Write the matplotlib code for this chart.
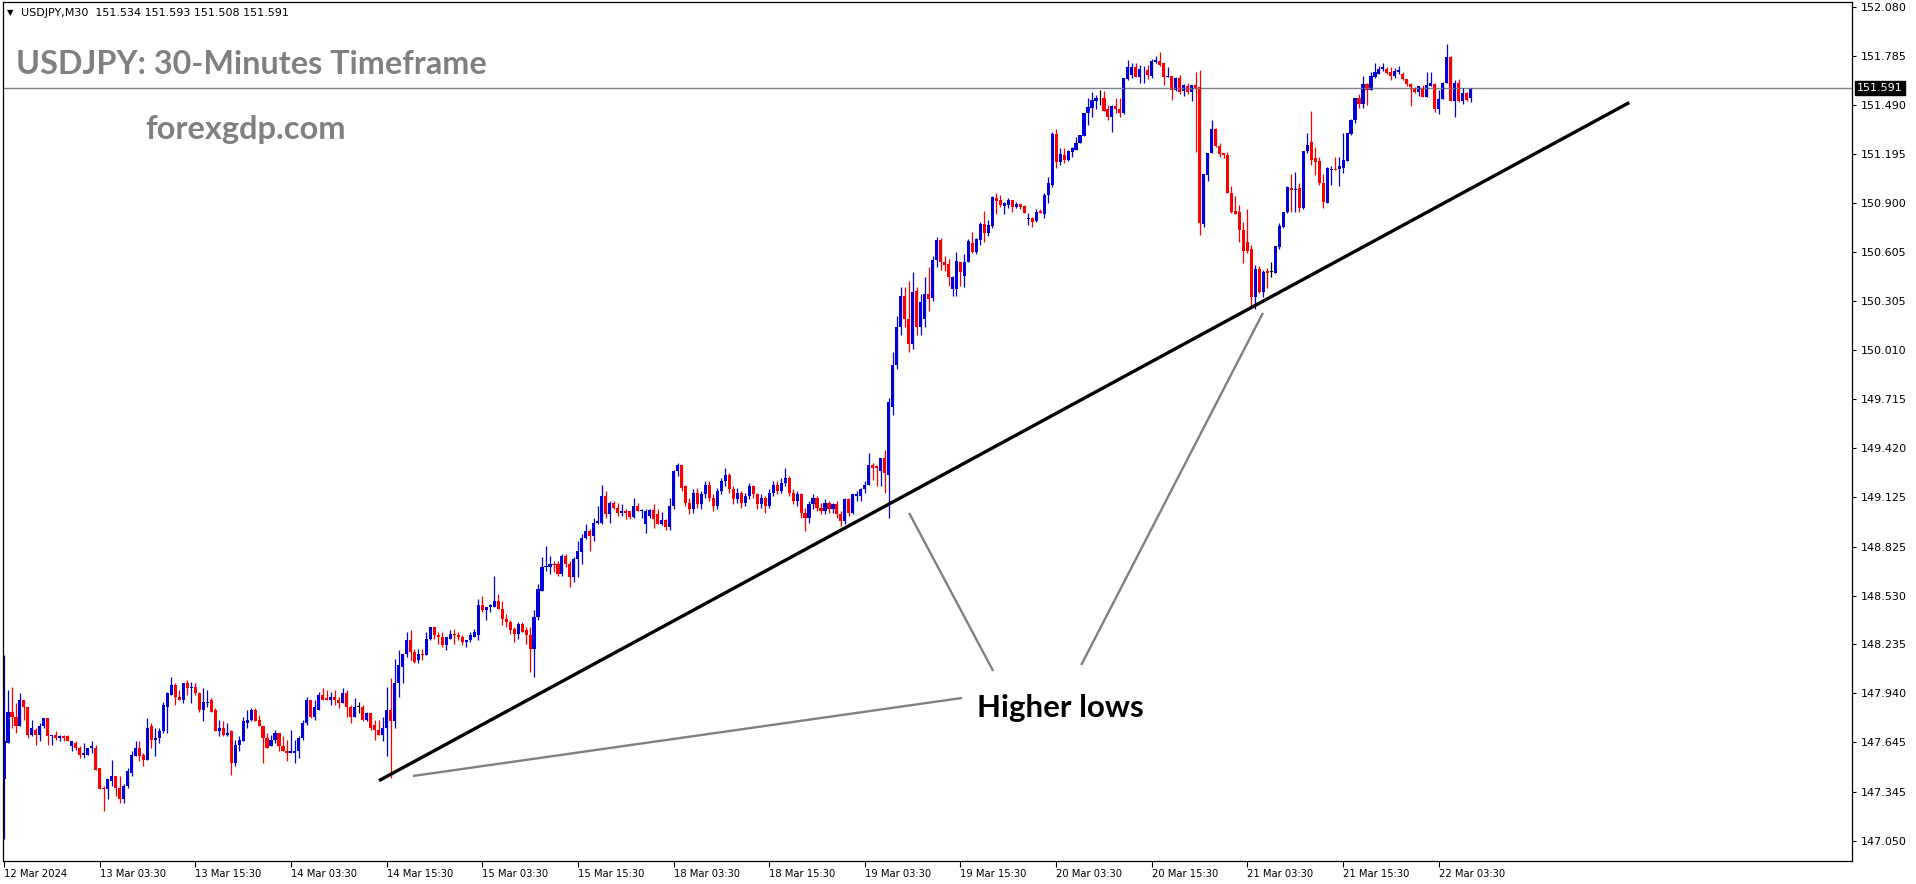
import matplotlib
matplotlib.use("Agg")
import matplotlib.pyplot as plt
import matplotlib.transforms as mtransforms
import numpy as np

plt.rcParams["font.family"] = ["DejaVu Sans"]

# ---- USDJPY M30 candles, 12 Mar 03:30 .. 22 Mar 08:00 ----
opens = [
    147.42, 147.64, 147.83, 147.80, 147.74, 147.90, 147.86, 147.69, 147.72, 147.69,  # 0
    147.74, 147.79, 147.68, 147.69, 147.67, 147.68, 147.68, 147.62, 147.64, 147.61,  # 10
    147.57, 147.57, 147.61, 147.61, 147.49, 147.37, 147.36, 147.41, 147.44, 147.37,  # 20
    147.30, 147.38, 147.46, 147.56, 147.61, 147.57, 147.54, 147.74, 147.66, 147.67,  # 30
    147.71, 147.86, 147.93, 147.99, 147.92, 147.90, 148.00, 147.97, 147.98, 147.94,  # 40
    147.84, 147.88, 147.90, 147.84, 147.71, 147.73, 147.69, 147.71, 147.52, 147.63,  # 50
    147.65, 147.76, 147.78, 147.84, 147.78, 147.74, 147.67, 147.62, 147.66, 147.70,  # 60
    147.62, 147.59, 147.58, 147.58, 147.59, 147.67, 147.76, 147.90, 147.80, 147.84,  # 70
    147.93, 147.91, 147.90, 147.92, 147.90, 147.88, 147.94, 147.86, 147.80, 147.86,  # 80
    147.86, 147.78, 147.82, 147.75, 147.72, 147.69, 147.73, 147.84, 147.77, 148.00,  # 90
    148.10, 148.18, 148.26, 148.19, 148.14, 148.18, 148.17, 148.27, 148.34, 148.29,  # 100
    148.28, 148.23, 148.27, 148.30, 148.29, 148.28, 148.25, 148.26, 148.28, 148.29,  # 110
    148.47, 148.44, 148.46, 148.46, 148.50, 148.45, 148.39, 148.37, 148.33, 148.30,  # 120
    148.36, 148.32, 148.29, 148.21, 148.40, 148.56, 148.70, 148.70, 148.72, 148.72,  # 130
    148.66, 148.77, 148.72, 148.64, 148.75, 148.79, 148.88, 148.92, 148.89, 148.97,  # 140
    148.97, 149.13, 149.02, 149.09, 149.06, 149.03, 149.04, 149.04, 149.005, 149.07,  # 150
    149.04, 148.96, 149.01, 149.045, 149.02, 148.96, 148.985, 148.945, 149.07, 149.28,  # 160
    149.32, 149.19, 149.09, 149.05, 149.15, 149.08, 149.14, 149.20, 149.12, 149.07,  # 170
    149.16, 149.22, 149.26, 149.17, 149.11, 149.15, 149.09, 149.13, 149.19, 149.14,  # 180
    149.08, 149.12, 149.07, 149.15, 149.20, 149.16, 149.21, 149.24, 149.15, 149.10,  # 190
    149.14, 149.03, 149.00, 149.08, 149.12, 149.06, 149.04, 149.09, 149.05, 149.08,  # 200
    149.02, 148.98, 149.11, 149.03, 149.13, 149.13, 149.17, 149.20, 149.32, 149.31,  # 210
    149.28, 149.36, 149.26, 149.67, 149.92, 150.15, 150.34, 150.20, 150.05, 150.37,  # 220
    150.15, 150.20, 150.35, 150.325, 150.555, 150.675, 150.545, 150.53, 150.38, 150.38,  # 230
    150.54, 150.46, 150.54, 150.655, 150.605, 150.676, 150.772, 150.72, 150.76, 150.93,  # 240
    150.917, 150.88, 150.887, 150.917, 150.873, 150.893, 150.88, 150.80, 150.81, 150.79,  # 250
    150.853, 150.83, 150.947, 151.008, 151.315, 151.148, 151.19, 151.16, 151.204, 151.22,  # 260
    151.26, 151.303, 151.44, 151.47, 151.515, 151.53, 151.53, 151.464, 151.416, 151.484,  # 270
    151.464, 151.444, 151.645, 151.671, 151.722, 151.657, 151.70, 151.702, 151.665, 151.752,  # 280
    151.758, 151.742, 151.657, 151.665, 151.581, 151.651, 151.577, 151.605, 151.571, 151.611,  # 290
    151.597, 150.772, 151.068, 151.203, 151.348, 151.243, 151.198, 151.188, 150.957, 150.853,  # 300
    150.847, 150.736, 150.666, 150.619, 150.334, 150.499, 150.364, 150.49, 150.485, 150.479,  # 310
    150.636, 150.756, 150.847, 150.988, 150.978, 150.988, 150.867, 151.215, 151.269, 151.168,  # 320
    151.154, 151.018, 150.901, 151.098, 151.102, 151.102, 151.108, 151.154, 151.315, 151.40,  # 330
    151.531, 151.496, 151.617, 151.581, 151.657, 151.68, 151.706, 151.706, 151.692, 151.665,  # 340
    151.688, 151.68, 151.645, 151.617, 151.591, 151.571, 151.591, 151.54, 151.605, 151.617,  # 350
    151.464, 151.525, 151.625, 151.782, 151.516, 151.621, 151.516, 151.565, 151.534,  # 360
]
highs = [
    148.17, 147.96, 147.98, 147.88, 147.94, 147.90, 147.86, 147.78, 147.73, 147.76,
    147.79, 147.79, 147.69, 147.71, 147.69, 147.69, 147.69, 147.65, 147.65, 147.62,
    147.64, 147.61, 147.65, 147.63, 147.49, 147.38, 147.42, 147.54, 147.44, 147.44,
    147.39, 147.49, 147.59, 147.65, 147.65, 147.58, 147.79, 147.76, 147.73, 147.73,
    147.89, 147.95, 148.04, 148.00, 147.96, 148.00, 148.02, 148.01, 148.00, 147.95,
    147.97, 147.96, 147.91, 147.85, 147.78, 147.77, 147.76, 147.72, 147.66, 147.68,
    147.80, 147.84, 147.85, 147.85, 147.81, 147.74, 147.70, 147.69, 147.72, 147.70,
    147.68, 147.66, 147.72, 147.66, 147.68, 147.78, 147.92, 147.90, 147.90, 147.95,
    147.97, 147.96, 147.95, 147.96, 147.92, 147.97, 147.96, 147.87, 147.91, 147.89,
    147.87, 147.83, 147.82, 147.78, 147.78, 147.80, 147.98, 148.03, 148.15, 148.20,
    148.18, 148.31, 148.32, 148.21, 148.21, 148.21, 148.31, 148.34, 148.34, 148.31,
    148.31, 148.28, 148.32, 148.33, 148.31, 148.29, 148.26, 148.31, 148.33, 148.51,
    148.53, 148.46, 148.48, 148.65, 148.54, 148.50, 148.42, 148.38, 148.34, 148.37,
    148.37, 148.34, 148.34, 148.44, 148.60, 148.76, 148.83, 148.77, 148.74, 148.74,
    148.78, 148.78, 148.74, 148.76, 148.86, 148.90, 148.96, 148.93, 149.00, 149.07,
    149.20, 149.16, 149.10, 149.10, 149.09, 149.08, 149.05, 149.04, 149.12, 149.09,
    149.05, 149.05, 149.05, 149.08, 149.05, 149.035, 148.99, 149.12, 149.29, 149.33,
    149.32, 149.20, 149.12, 149.17, 149.18, 149.16, 149.22, 149.22, 149.14, 149.18,
    149.24, 149.30, 149.27, 149.19, 149.18, 149.16, 149.15, 149.21, 149.20, 149.15,
    149.14, 149.13, 149.17, 149.22, 149.22, 149.24, 149.30, 149.25, 149.17, 149.16,
    149.15, 149.06, 149.10, 149.14, 149.13, 149.09, 149.11, 149.10, 149.09, 149.10,
    149.04, 149.12, 149.12, 149.145, 149.16, 149.18, 149.22, 149.39, 149.33, 149.32,
    149.36, 149.41, 149.72, 150.00, 150.22, 150.39, 150.39, 150.43, 150.48, 150.39,
    150.35, 150.45, 150.51, 150.58, 150.695, 150.685, 150.58, 150.56, 150.46, 150.605,
    150.545, 150.59, 150.68, 150.726, 150.686, 150.786, 150.85, 150.796, 150.94, 150.957,
    150.947, 150.905, 150.927, 150.917, 150.907, 150.893, 150.885, 150.836, 150.816, 150.86,
    150.863, 150.957, 151.058, 151.33, 151.343, 151.233, 151.23, 151.219, 151.235, 151.295,
    151.31, 151.444, 151.53, 151.571, 151.55, 151.58, 151.575, 151.49, 151.49, 151.535,
    151.53, 151.655, 151.762, 151.746, 151.742, 151.732, 151.726, 151.732, 151.766, 151.786,
    151.812, 151.746, 151.718, 151.665, 151.657, 151.671, 151.617, 151.625, 151.611, 151.692,
    151.702, 151.074, 151.203, 151.40, 151.349, 151.26, 151.202, 151.208, 151.002, 150.94,
    150.887, 150.786, 150.861, 150.645, 150.525, 150.519, 150.495, 150.505, 150.545, 150.64,
    150.78, 150.847, 151.002, 151.074, 151.088, 151.018, 151.215, 151.323, 151.456, 151.239,
    151.179, 151.074, 151.114, 151.122, 151.175, 151.178, 151.319, 151.323, 151.404, 151.531,
    151.557, 151.665, 151.621, 151.692, 151.746, 151.726, 151.742, 151.718, 151.718, 151.712,
    151.726, 151.69, 151.645, 151.625, 151.601, 151.605, 151.611, 151.692, 151.692, 151.625,
    151.58, 151.631, 151.859, 151.786, 151.641, 151.645, 151.591, 151.571, 151.593,
]
lows = [
    147.06, 147.64, 147.73, 147.70, 147.74, 147.78, 147.67, 147.68, 147.63, 147.65,
    147.73, 147.63, 147.63, 147.66, 147.65, 147.65, 147.65, 147.59, 147.60, 147.55,
    147.55, 147.57, 147.58, 147.48, 147.36, 147.23, 147.30, 147.38, 147.32, 147.28,
    147.28, 147.37, 147.44, 147.56, 147.53, 147.50, 147.54, 147.61, 147.56, 147.64,
    147.70, 147.70, 147.93, 147.87, 147.90, 147.88, 147.93, 147.88, 147.93, 147.83,
    147.77, 147.86, 147.83, 147.71, 147.68, 147.68, 147.68, 147.45, 147.50, 147.59,
    147.65, 147.73, 147.77, 147.77, 147.74, 147.52, 147.61, 147.62, 147.64, 147.59,
    147.59, 147.53, 147.58, 147.52, 147.55, 147.66, 147.75, 147.79, 147.78, 147.84,
    147.90, 147.90, 147.87, 147.87, 147.85, 147.88, 147.80, 147.76, 147.80, 147.82,
    147.77, 147.77, 147.72, 147.66, 147.69, 147.65, 147.56, 147.43, 147.73, 147.92,
    148.00, 148.16, 148.14, 148.12, 148.12, 148.14, 148.17, 148.26, 148.27, 148.24,
    148.22, 148.20, 148.27, 148.24, 148.26, 148.23, 148.22, 148.25, 148.28, 148.26,
    148.43, 148.38, 148.43, 148.46, 148.45, 148.35, 148.34, 148.30, 148.25, 148.27,
    148.31, 148.24, 148.07, 148.04, 148.38, 148.56, 148.68, 148.66, 148.67, 148.65,
    148.65, 148.70, 148.58, 148.61, 148.64, 148.72, 148.87, 148.80, 148.86, 148.96,
    148.96, 149.00, 148.97, 149.05, 149.01, 149.01, 148.99, 148.99, 149.00, 149.04,
    149.00, 148.91, 149.00, 148.94, 148.96, 148.955, 148.925, 148.925, 149.05, 149.25,
    149.16, 149.07, 149.02, 149.03, 149.06, 149.05, 149.12, 149.10, 149.04, 149.05,
    149.14, 149.19, 149.15, 149.08, 149.09, 149.06, 149.07, 149.11, 149.12, 149.05,
    149.06, 149.03, 149.06, 149.13, 149.14, 149.15, 149.19, 149.13, 149.08, 149.07,
    149.00, 148.92, 148.97, 149.05, 149.04, 149.02, 149.02, 149.03, 149.03, 149.00,
    148.95, 148.96, 149.01, 149.02, 149.10, 149.10, 149.15, 149.20, 149.23, 149.19,
    149.19, 149.15, 149.00, 149.62, 149.90, 150.10, 150.15, 150.00, 150.02, 150.10,
    150.10, 150.15, 150.25, 150.31, 150.51, 150.495, 150.49, 150.40, 150.34, 150.34,
    150.40, 150.39, 150.54, 150.60, 150.59, 150.645, 150.665, 150.70, 150.75, 150.833,
    150.877, 150.833, 150.867, 150.847, 150.867, 150.861, 150.84, 150.766, 150.756, 150.786,
    150.837, 150.81, 150.90, 150.993, 151.108, 151.128, 151.138, 151.155, 151.179, 151.22,
    151.26, 151.303, 151.37, 151.416, 151.464, 151.49, 151.456, 151.40, 151.33, 151.44,
    151.416, 151.436, 151.64, 151.651, 151.657, 151.621, 151.625, 151.645, 151.651, 151.746,
    151.726, 151.611, 151.657, 151.52, 151.577, 151.557, 151.545, 151.557, 151.516, 151.209,
    150.706, 150.756, 151.034, 151.203, 151.239, 151.175, 151.168, 150.957, 150.84, 150.833,
    150.665, 150.535, 150.599, 150.263, 150.257, 150.354, 150.334, 150.384, 150.45, 150.479,
    150.62, 150.746, 150.84, 150.847, 150.847, 150.847, 150.86, 151.203, 151.128, 151.068,
    151.008, 150.867, 150.897, 151.008, 151.098, 151.002, 151.082, 151.154, 151.309, 151.384,
    151.47, 151.47, 151.49, 151.581, 151.651, 151.676, 151.698, 151.678, 151.641, 151.651,
    151.68, 151.641, 151.605, 151.484, 151.565, 151.545, 151.536, 151.54, 151.605, 151.45,
    151.436, 151.525, 151.625, 151.516, 151.416, 151.51, 151.496, 151.516, 151.508,
]
closes = [
    147.65, 147.83, 147.80, 147.74, 147.90, 147.86, 147.69, 147.73, 147.69, 147.74,
    147.79, 147.68, 147.69, 147.67, 147.68, 147.67, 147.65, 147.65, 147.61, 147.57,
    147.58, 147.61, 147.62, 147.48, 147.36, 147.36, 147.42, 147.44, 147.37, 147.30,
    147.38, 147.47, 147.57, 147.61, 147.56, 147.54, 147.73, 147.66, 147.67, 147.71,
    147.87, 147.94, 147.99, 147.92, 147.90, 148.00, 147.97, 147.98, 147.94, 147.84,
    147.89, 147.89, 147.83, 147.71, 147.73, 147.69, 147.70, 147.52, 147.63, 147.66,
    147.77, 147.78, 147.84, 147.77, 147.74, 147.67, 147.61, 147.66, 147.70, 147.62,
    147.59, 147.58, 147.59, 147.59, 147.67, 147.76, 147.90, 147.80, 147.86, 147.93,
    147.90, 147.90, 147.92, 147.90, 147.88, 147.94, 147.86, 147.80, 147.86, 147.86,
    147.78, 147.82, 147.73, 147.72, 147.69, 147.73, 147.84, 147.77, 148.00, 148.11,
    148.18, 148.26, 148.19, 148.13, 148.18, 148.17, 148.27, 148.34, 148.29, 148.28,
    148.23, 148.28, 148.30, 148.29, 148.28, 148.25, 148.26, 148.29, 148.31, 148.47,
    148.44, 148.46, 148.47, 148.50, 148.45, 148.39, 148.37, 148.32, 148.30, 148.36,
    148.31, 148.29, 148.21, 148.40, 148.57, 148.70, 148.71, 148.72, 148.715, 148.66,
    148.77, 148.72, 148.64, 148.75, 148.80, 148.88, 148.92, 148.89, 148.97, 148.98,
    149.13, 149.02, 149.09, 149.06, 149.03, 149.04, 149.03, 149.005, 149.07, 149.04,
    149.045, 149.04, 149.045, 148.99, 148.96, 148.985, 148.945, 149.07, 149.28, 149.32,
    149.18, 149.09, 149.05, 149.15, 149.08, 149.14, 149.20, 149.12, 149.07, 149.16,
    149.22, 149.26, 149.17, 149.11, 149.15, 149.09, 149.13, 149.19, 149.14, 149.08,
    149.12, 149.07, 149.15, 149.20, 149.16, 149.21, 149.24, 149.15, 149.10, 149.14,
    149.03, 149.00, 149.08, 149.12, 149.06, 149.04, 149.09, 149.05, 149.08, 149.02,
    148.98, 149.11, 149.03, 149.14, 149.145, 149.17, 149.20, 149.32, 149.30, 149.30,
    149.36, 149.27, 149.70, 149.92, 150.15, 150.34, 150.20, 150.05, 150.36, 150.15,
    150.30, 150.35, 150.32, 150.555, 150.675, 150.545, 150.525, 150.45, 150.455, 150.55,
    150.48, 150.54, 150.67, 150.605, 150.68, 150.772, 150.72, 150.766, 150.937, 150.913,
    150.887, 150.90, 150.917, 150.873, 150.893, 150.877, 150.84, 150.81, 150.786, 150.847,
    150.838, 150.947, 151.018, 151.315, 151.148, 151.195, 151.16, 151.215, 151.23, 151.263,
    151.31, 151.444, 151.48, 151.52, 151.535, 151.53, 151.456, 151.416, 151.484, 151.464,
    151.444, 151.651, 151.722, 151.722, 151.657, 151.706, 151.703, 151.672, 151.758, 151.762,
    151.732, 151.657, 151.665, 151.581, 151.651, 151.571, 151.611, 151.571, 151.611, 151.591,
    150.776, 151.074, 151.203, 151.343, 151.243, 151.195, 151.188, 150.957, 150.847, 150.833,
    150.736, 150.611, 150.611, 150.334, 150.499, 150.364, 150.485, 150.475, 150.485, 150.64,
    150.76, 150.847, 150.998, 150.978, 150.985, 150.867, 151.215, 151.249, 151.158, 151.148,
    151.018, 150.907, 151.108, 151.102, 151.098, 151.122, 151.158, 151.319, 151.40, 151.531,
    151.496, 151.617, 151.581, 151.665, 151.692, 151.706, 151.722, 151.686, 151.665, 151.698,
    151.70, 151.645, 151.617, 151.597, 151.571, 151.605, 151.54, 151.611, 151.625, 151.464,
    151.525, 151.625, 151.778, 151.516, 151.621, 151.516, 151.565, 151.52, 151.591,
]

time_labels = ["12 Mar 2024", "13 Mar 03:30", "13 Mar 15:30", "14 Mar 03:30",
               "14 Mar 15:30", "15 Mar 03:30", "15 Mar 15:30", "18 Mar 03:30",
               "18 Mar 15:30", "19 Mar 03:30", "19 Mar 15:30", "20 Mar 03:30",
               "20 Mar 15:30", "21 Mar 03:30", "21 Mar 15:30", "22 Mar 03:30"]
bars_per_label = 24
price_ticks = [152.080, 151.785, 151.490, 151.195, 150.900, 150.605, 150.305,
               150.010, 149.715, 149.420, 149.125, 148.825, 148.530, 148.235,
               147.940, 147.645, 147.345, 147.050]
bid_price = 151.591
header = "USDJPY,M30  151.534 151.593 151.508 151.591"

# drawn objects: trend line and the pointer strokes (bar index, price)
trend_line = [(94.1, 147.413), (407.8, 151.505)]
pointers = [[(102.6, 147.441), (240.4, 147.912)],
            [(227.1, 149.029), (248.2, 148.075)],
            [(315.9, 150.236), (270.3, 148.111)]]
note_pos = (244.2, 147.800)

BULL = "#0000d8"
BEAR = "#ff0000"
GREY = "#808080"

W, H = 1916, 884
fig = plt.figure(figsize=(W / 100, H / 100), dpi=100)
fig.patch.set_facecolor("white")
ax = fig.add_axes([3 / W, (H - 861) / H, 1849 / W, 859 / H])

o = np.array(opens)
hi = np.array(highs)
lo = np.array(lows)
c = np.array(closes)
idx = np.arange(len(o))
cols = np.where(c > o, BULL, np.where(c < o, BEAR, "black"))

ax.vlines(idx, lo, hi, colors=cols, lw=0.9)
body = np.maximum(np.abs(c - o), 0.004)
ax.bar(idx, body, bottom=np.minimum(o, c), width=0.78, color=cols, lw=0)

ax.axhline(bid_price, color="#7f8289", lw=1.0, zorder=1)

(x0, y0), (x1, y1) = trend_line
ax.plot([x0, x1], [y0, y1], color="black", lw=2.4, solid_capstyle="butt")
for (px0, py0), (px1, py1) in pointers:
    ax.plot([px0, px1], [py0, py1], color=GREY, lw=1.7, solid_capstyle="butt")
ax.text(note_pos[0], note_pos[1], "Higher lows", family="Lato", weight="bold",
        fontsize=22.5, color="black", va="baseline", ha="left")

ax.set_xlim(-0.25, 463.7)
ax.set_ylim(146.928, 152.112)

for sp in ax.spines.values():
    sp.set_color("black")
    sp.set_linewidth(0.9)

ax.yaxis.tick_right()
ax.set_yticks(price_ticks)
ax.set_yticklabels([f"{v:.3f}" for v in price_ticks])
ax.tick_params(axis="y", direction="out", length=3, width=0.8, labelsize=8, pad=3)

ax.set_xticks(np.arange(len(time_labels)) * bars_per_label)
ax.set_xticklabels(time_labels)
for lbl in ax.get_xticklabels():
    lbl.set_ha("left")
ax.tick_params(axis="x", direction="out", length=4, width=0.8, labelsize=7.2, pad=2)

tag = mtransforms.blended_transform_factory(ax.transAxes, ax.transData)
ax.text(1.0027, bid_price, f"{bid_price:.3f}", transform=tag, ha="left", va="center",
        fontsize=8, color="white", clip_on=False,
        bbox=dict(boxstyle="square,pad=0.18", fc="black", ec="black"))

fig.text(7 / W, 1 - 12.5 / H, "\u25bc", fontsize=6, va="center")
fig.text(21 / W, 1 - 12.5 / H, header, fontsize=8, va="center")
fig.text(16 / W, 1 - 74 / H, "USDJPY: 30-Minutes Timeframe", family="Lato",
         weight="bold", fontsize=23.3, color=GREY, va="baseline")
fig.text(145 / W, 1 - 139 / H, "forexgdp.com", family="Lato", weight="bold",
         fontsize=23.5, color=GREY, va="baseline")

fig.savefig("out.png", dpi=100, facecolor="white")
